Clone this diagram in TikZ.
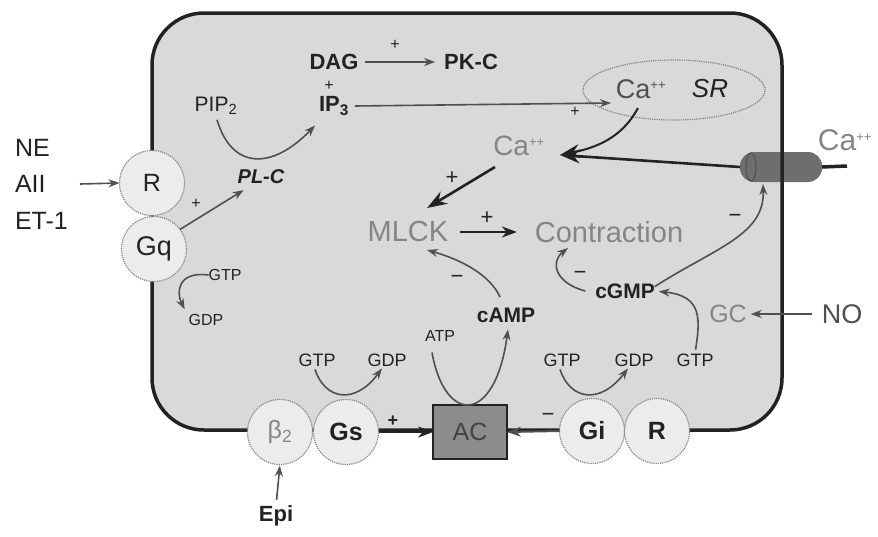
\documentclass[tikz,border=0pt]{standalone}
\usepackage{fontspec}
\setmainfont{Liberation Sans}
\usetikzlibrary{arrows.meta,shapes.geometric,calc}
\definecolor{cellfill}{HTML}{D9D9D9}
\definecolor{circfill}{HTML}{ECECEC}
\definecolor{lt}{HTML}{858585}
\definecolor{dk}{HTML}{222222}
\definecolor{md}{HTML}{505050}
\definecolor{chan}{HTML}{6E6E6E}
\definecolor{acfill}{HTML}{8C8C8C}
\newcommand{\myfs}[1]{\fontsize{#1}{#1}\selectfont}
\newcommand{\pp}{\textsuperscript{\myfs{13}++}}
\begin{document}
\begin{tikzpicture}[x=1pt,y=-1pt,
  every node/.style={inner sep=0pt, outer sep=0pt},
  circ/.style={circle, minimum size=65pt, fill=circfill, draw=lt, densely dotted, line width=1.2pt, text=dk, font=\myfs{25}},
  arr/.style={draw=md, line width=1.6pt, -{Stealth[length=11pt,width=8pt]}},
  darr/.style={draw=dk, line width=2.4pt, -{Stealth[length=15pt,width=11pt]}},
  bigarr/.style={draw=dk, line width=2.6pt, -{Stealth[length=20pt,width=14pt]}},
  sgn/.style={text=dk, font=\myfs{16}},
  bsgn/.style={text=dk, font=\myfs{22}},
  small/.style={text=dk, font=\myfs{18}},
  bigg/.style={text=lt, font=\myfs{29}},
]
\useasboundingbox (0,0) rectangle (878,536);
% cell
\fill[cellfill, rounded corners=52pt] (152,13) rectangle (782,430);
% channel
\node[fill=chan, rounded corners=14pt, minimum width=82pt, minimum height=30pt] (chan) at (781,167) {};
\draw[dk!80, line width=1pt] (751,167) ellipse (5pt and 14pt);
\coordinate (chanout) at (847,166);
\draw[dk, line width=3.5pt] (chan.east) -- (chanout);
\draw[dk, line width=3.5pt, rounded corners=52pt] (152,13) rectangle (782,430);

% left inputs
\node[text=dk, font=\myfs{25}, anchor=west] (ne) at (15,148) {NE};
\node[text=dk, font=\myfs{25}, anchor=west] (aii) at (15,184) {AII};
\node[text=dk, font=\myfs{25}, anchor=west] (et) at (15,221) {ET-1};

% circles and AC
\node[circ] (r1) at (152,183) {R};
\node[circ, font=\myfs{27}] (gq) at (154,249) {Gq};
\node[circ, text=lt] (b2) at (280,432) {β\textsubscript{2}};
\node[circ, font=\bfseries\myfs{25}] (gs) at (346,432) {Gs};
\node[draw=dk, line width=1.5pt, fill=acfill, minimum width=74pt, minimum height=54pt, font=\myfs{25}, text=dk!85] (ac) at (470,432) {AC};
\node[circ, font=\bfseries\myfs{25}] (gi) at (592,431) {Gi};
\node[circ, font=\bfseries\myfs{25}] (r2) at (657,431) {R};

% top texts
\node[text=dk, font=\bfseries\myfs{22}] (dag) at (334,62) {DAG};
\node[text=dk, font=\bfseries\myfs{22}] (pkc) at (471,62) {PK-C};
\node[text=dk, font=\myfs{21}] (pip2) at (216,106) {PIP\textsubscript{2}};
\node[text=dk, font=\bfseries\myfs{22}] (ip3) at (334,106) {IP\textsubscript{3}};
\node[text=dk, font=\bfseries\itshape\myfs{20}] (plc) at (261,177) {PL-C};

% SR
\node[ellipse, draw=lt, densely dotted, line width=1.2pt, minimum width=182pt, minimum height=60pt] (sr) at (674,90) {};
\node[text=md, font=\myfs{27}] (casr) at (641,89) {Ca\pp};
\node[text=dk, font=\itshape\myfs{26}] (srt) at (710,89) {SR};

% middle texts
\node[bigg, font=\myfs{28}] (cac) at (519,146) {Ca\pp};
\node[bigg, font=\myfs{30}] (caout) at (845,140) {Ca\pp};
\node[bigg] (mlck) at (408,232) {MLCK};
\node[bigg] (contr) at (609,232) {Contraction};
\node[text=dk, font=\bfseries\myfs{21}] (camp) at (506,315) {cAMP};
\node[text=dk, font=\bfseries\myfs{21}] (cgmp) at (625,291) {cGMP};
\node[text=lt, font=\myfs{25}] (gc) at (728,314) {GC};
\node[text=md, font=\myfs{27}] (no) at (842,314) {NO};

% small labels
\node[small] (gtps) at (317,360) {GTP};
\node[small] (gdps) at (387,360) {GDP};
\node[small, font=\myfs{16}] (atp) at (440,336) {ATP};
\node[small] (gtpi) at (562,360) {GTP};
\node[small] (gdpi) at (634,360) {GDP};
\node[small] (gtpgc) at (695,360) {GTP};
\node[small, font=\myfs{16}] (gtpq) at (225,275) {GTP};
\node[small, font=\myfs{16}] (gdpq) at (206,320) {GDP};
\node[text=dk, font=\bfseries\myfs{22}] (epi) at (276,516) {Epi};

% coordinates for free ends
\coordinate (srin) at (611,103);
\coordinate (cahit) at (560,155);
\coordinate (casrout) at (638,108);
\coordinate (cacout) at (495,167);
\coordinate (mlcktop) at (427,208);
\coordinate (mlckbot) at (427,250);
\coordinate (campup) at (500,297);
\coordinate (contrbot) at (568,248);
\coordinate (chanbot) at (763,184);
\coordinate (aiiend) at (80,184);

% connectors
\draw[arr] (aiiend) -- (r1.west);
\draw[arr] (gq.37) -- ($(plc.south west)+(6,6)$);
\draw[arr] ($(pip2.south)+(1,5)$) .. controls (232,170) and (272,170) .. ($(ip3.south west)+(-4,10)$);
\draw[arr, shorten <=7pt, shorten >=9pt] (dag.east) -- (pkc.west);
\draw[arr] ($(ip3.east)+(6,0)$) -- (srin);
\draw[bigarr, line width=2pt] (casrout) .. controls (625,132) and (605,146) .. (cahit);
\draw[bigarr] (chan.west) -- (cahit);
\draw[bigarr] (cacout) -- (mlcktop);
\draw[darr, shorten <=12pt, shorten >=18pt] (mlck.east) -- (contr.west);
\draw[arr] (campup) .. controls (490,275) and (462,260) .. (mlckbot);
\draw[arr] ($(cgmp.west)+(-10,0)$) .. controls (555,283) and (550,262) .. (contrbot);
\draw[arr] ($(cgmp.north east)+(0,3)$) .. controls (715,248) and (765,235) .. (chanbot);
\draw[arr, shorten <=4pt, shorten >=4pt] (gtpgc.north) .. controls (700,320) and (703,296) .. (cgmp.east);
\draw[arr, shorten <=10pt, shorten >=4pt] (no.west) -- (gc.east);
\draw[arr] (gtpq.west) .. controls (178,271) and (176,292) .. ($(gdpq.north west)+(-4,-5)$);
\draw[arr] ($(gtps.south)+(-2,3)$) .. controls (325,400) and (355,405) .. ($(gdps.south)+(-5,2)$);
\draw[arr] ($(gtpi.south)+(-2,3)$) .. controls (570,400) and (600,405) .. ($(gdpi.south)+(-6,2)$);
\draw[arr] ($(atp.south)+(-8,11)$) .. controls (445,425) and (495,425) .. ($(camp.south)+(2,7)$);
\draw[darr] (gs.east) -- (ac.west);
\draw[arr, line width=2pt, -{Stealth[length=14pt,width=10pt]}] (gi.west) -- (ac.east);
\draw[arr, shorten <=6pt, shorten >=1pt] (epi.north) -- (b2.south);

% signs
\node[sgn] (s1) at (196,204) {+};
\node[sgn] (s2) at (395,45) {+};
\node[sgn] (s3) at (329,86) {+};
\node[sgn] (s4) at (575,112) {+};
\node[bsgn] (s5) at (452,178) {+};
\node[bsgn] (s6) at (487,218) {+};
\node[sgn, font=\bfseries\myfs{18}] (s7) at (393,421) {+};
\node[bsgn] (m1) at (457,279) {−};
\node[bsgn] (m2) at (580,275) {−};
\node[bsgn] (m3) at (735,218) {−};
\node[bsgn] (m4) at (548,417) {−};
\end{tikzpicture}
\end{document}
